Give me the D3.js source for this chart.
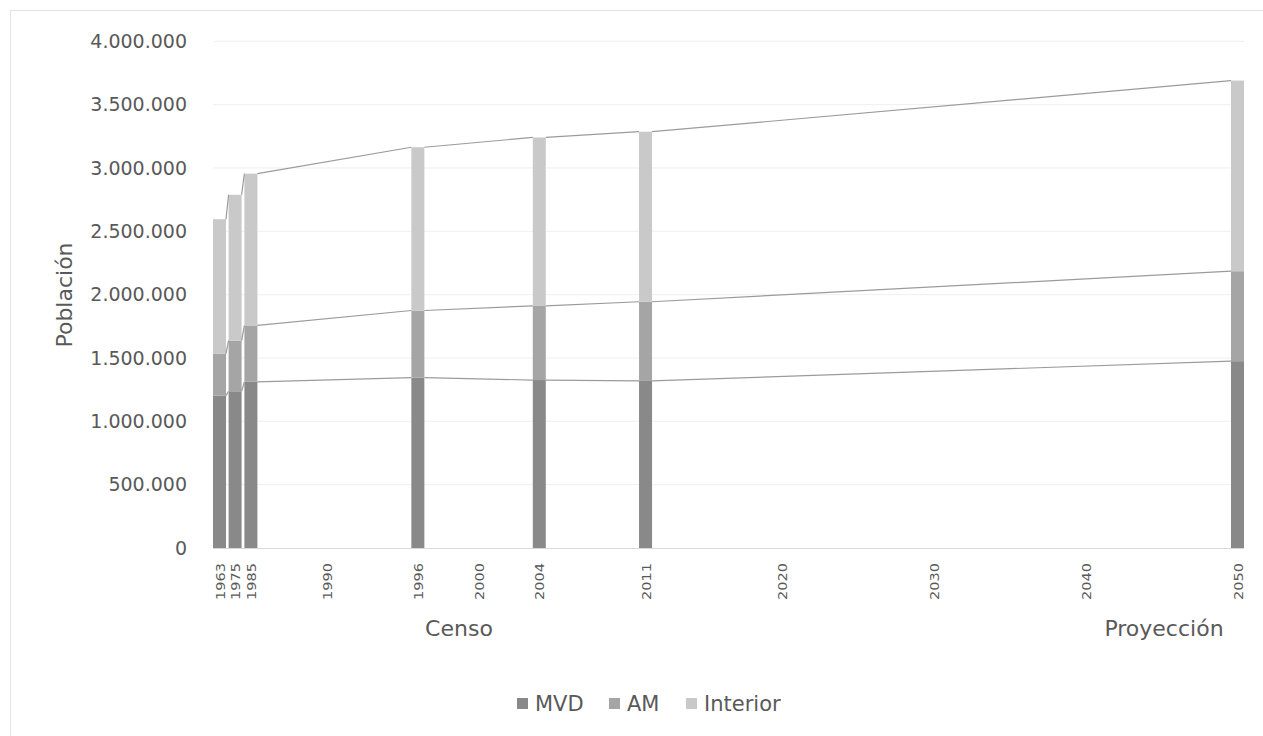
<!DOCTYPE html>
<html>
<head>
<meta charset="utf-8">
<script src="https://cdn.jsdelivr.net/npm/d3@7"></script>
<style>
  html, body { margin: 0; padding: 0; background: #ffffff; }
  svg { display: block; font-family: "DejaVu Sans", sans-serif; }
</style>
</head>
<body>
<svg id="chart" width="1263" height="736"></svg>
<script>
// ---- Data ----
const years = [1963, 1975, 1985, 1996, 2004, 2011, 2050];
const mvd = [1202757, 1237227, 1311976, 1344839, 1325968, 1319108, 1475000];
const am = [330000, 400000, 445000, 530000, 585000, 625000, 710000];
const interior = [1062753, 1151202, 1198265, 1288924, 1330035, 1342206, 1505000];
const seriesNames = ["MVD", "AM", "Interior"];
const tickYears = [1963, 1975, 1985, 1990, 1996, 2000, 2004, 2011, 2020, 2030, 2040, 2050];
const yTicks = [0, 500000, 1000000, 1500000, 2000000, 2500000, 3000000, 3500000, 4000000];
const axisTitles = ["Censo", "Proyección"];
const yTitle = "Población";

// ---- Layout ----
const svg = d3.select("#chart");
const plotLeft = 213, plotRight = 1244, plotTop = 41.3, plotBottom = 548;
const barW = 13;
const colors = ["#898989", "#a5a5a5", "#c9c9c9"];
const textColor = "#595959";

// outer border
svg.append("rect").attr("x", 10.5).attr("y", 10.5).attr("width", 1300).attr("height", 800)
  .attr("fill", "none").attr("stroke", "#e3e3e3").attr("stroke-width", 1);

// piecewise x scale (first three census years are compressed side by side)
const x = d3.scaleLinear()
  .domain([1963, 1975, 1985, 2050])
  .range([plotLeft + barW / 2, plotLeft + barW / 2 + 15.6, plotLeft + barW / 2 + 31.4, plotRight - barW / 2]);

const y = d3.scaleLinear().domain([0, 4000000]).range([plotBottom, plotTop]);

const locale = d3.formatLocale({ decimal: ",", thousands: ".", grouping: [3], currency: ["", ""] });
const fmt = locale.format(",d");

// gridlines
svg.append("g").selectAll("line").data(yTicks.filter(d => d > 0)).join("line")
  .attr("x1", plotLeft).attr("x2", plotRight)
  .attr("y1", d => y(d)).attr("y2", d => y(d))
  .attr("stroke", "#efefef").attr("stroke-width", 1);

// y axis labels
const yAxis = d3.axisLeft(y).tickValues(yTicks).tickFormat(fmt).tickSize(0).tickPadding(26);
const gy = svg.append("g").attr("transform", `translate(${plotLeft},0)`).call(yAxis);
gy.select(".domain").remove();
gy.selectAll("text").attr("fill", textColor).style("font-size", "19px")
  .style("font-family", "DejaVu Sans");

// stacked data
const table = years.map((yr, i) => ({ year: yr, MVD: mvd[i], AM: am[i], Interior: interior[i] }));
const stack = d3.stack().keys(seriesNames)(table);

// bars
stack.forEach((layer, li) => {
  svg.append("g").selectAll("rect").data(layer).join("rect")
    .attr("x", d => x(d.data.year) - barW / 2)
    .attr("width", barW)
    .attr("y", d => y(d[1]))
    .attr("height", d => y(d[0]) - y(d[1]))
    .attr("fill", colors[li]);
});

// series lines
stack.forEach(layer => {
  const segs = d3.pairs(layer);
  svg.append("g").selectAll("line").data(segs).join("line")
    .attr("x1", d => x(d[0].data.year) + barW / 2)
    .attr("y1", d => y(d[0][1]))
    .attr("x2", d => x(d[1].data.year) - barW / 2)
    .attr("y2", d => y(d[1][1]))
    .attr("stroke", "#9b9b9b").attr("stroke-width", 1.2);
});

// x axis line
svg.append("line").attr("x1", plotLeft).attr("x2", plotRight)
  .attr("y1", plotBottom + 0.5).attr("y2", plotBottom + 0.5)
  .attr("stroke", "#d9d9d9").attr("stroke-width", 1);

// x tick labels (rotated)
const xAxis = d3.axisBottom(x).tickValues(tickYears).tickFormat(d3.format("d")).tickSize(0);
const gx = svg.append("g").attr("transform", `translate(0,${plotBottom})`).call(xAxis);
gx.select(".domain").remove();
gx.selectAll("text")
  .attr("fill", textColor)
  .style("font-size", "12.5px").style("font-family", "DejaVu Sans")
  .attr("text-anchor", "end")
  .attr("transform", "rotate(-90)")
  .attr("x", -15).attr("y", 0).attr("dy", "0.36em")
  .attr("textLength", 37).attr("lengthAdjust", "spacingAndGlyphs");

// axis titles
svg.append("text").attr("x", 459).attr("y", 636).attr("text-anchor", "middle")
  .attr("fill", textColor).style("font-size", "22px").text(axisTitles[0]);
svg.append("text").attr("x", 1164).attr("y", 636).attr("text-anchor", "middle")
  .attr("fill", textColor).style("font-size", "22px").text(axisTitles[1]);

svg.append("text").attr("transform", "translate(64,295) rotate(-90)")
  .attr("text-anchor", "middle").attr("dy", "0.36em")
  .attr("fill", textColor).style("font-size", "22px").text(yTitle);

// legend
const legendX = [517, 609, 686];
const lg = svg.append("g");
seriesNames.forEach((name, i) => {
  lg.append("rect").attr("x", legendX[i]).attr("y", 698).attr("width", 11).attr("height", 11)
    .attr("fill", colors[i]);
  lg.append("text").attr("x", legendX[i] + 18).attr("y", 711)
    .attr("fill", textColor).style("font-size", "21px").text(name);
});
</script>
</body>
</html>
